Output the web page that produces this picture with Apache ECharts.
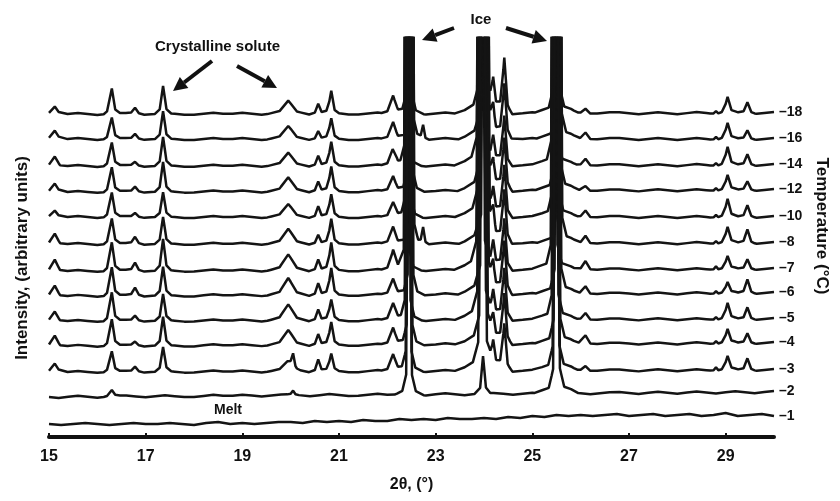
<!DOCTYPE html>
<html>
<head>
<meta charset="utf-8">
<script src="https://cdn.jsdelivr.net/npm/echarts@6/dist/echarts.min.js"></script>
<style>
  html, body { margin: 0; padding: 0; background: #fff; }
  #chart { width: 840px; height: 501px; }
</style>
</head>
<body>
<div id="chart"></div>
<script>
// temperatures, top trace first
var temps = ['\u201318', '\u201316', '\u201314', '\u201312', '\u201310', '\u20138', '\u20137', '\u20136', '\u20135', '\u20134', '\u20133', '\u20132', '\u20131'];
// stacking offset of each trace (baseline at 15 and at 30 deg)
var baseLeft = [323, 298, 271, 245, 220, 193, 166, 141, 116, 91, 65, 40, 13];
var baseRight = [324, 298, 272, 247, 220, 194, 168, 144, 118, 94, 67, 45, 21];

var xTicks = [15, 17, 19, 21, 23, 25, 27, 29];

// crystalline solute peaks: position, half width at base (deg)
var peakPos = [15.12, 16.30, 16.78, 17.36, 19.95, 20.05, 20.57, 20.84, 22.12, 22.74, 24.19, 24.42, 26.10, 28.80, 29.04, 29.45];
var peakWidth = [0.11, 0.07, 0.08, 0.07, 0.18, 0.05, 0.07, 0.07, 0.10, 0.05, 0.06, 0.07, 0.10, 0.05, 0.08, 0.08];
// heights of each peak, one row per trace
var peakHeight = [
  [8, 25, 6, 27, 12, 0, 10, 22, 18, 0, 27, 53, 5, 3, 16, 11],
  [9, 21, 5, 27, 12, 0, 8, 20, 17, 14, 22, 52, 7, 3, 16, 9],
  [10, 23, 4, 28, 12, 0, 10, 23, 18, 0, 22, 48, 7, 3, 18, 11],
  [9, 24, 5, 29, 13, 0, 10, 24, 15, 0, 22, 50, 5, 3, 15, 9],
  [7, 24, 4, 24, 12, 0, 11, 22, 15, 0, 22, 50, 7, 3, 18, 12],
  [11, 25, 7, 26, 14, 0, 9, 24, 17, 16, 22, 50, 8, 3, 16, 14],
  [12, 28, 8, 31, 15, 0, 11, 27, 20, 0, 22, 50, 9, 4, 13, 10],
  [11, 28, 8, 28, 16, 0, 12, 26, 16, 0, 22, 50, 8, 3, 11, 14],
  [10, 28, 5, 26, 15, 0, 11, 20, 17, 0, 22, 50, 7, 3, 16, 12],
  [11, 26, 4, 28, 14, 0, 11, 22, 17, 0, 22, 48, 9, 3, 14, 10],
  [9, 20, 5, 24, 10, 12, 12, 17, 17, 0, 22, 45, 5, 4, 14, 12],
  [0, 6, 0, 0, 0, 4, 0, 0, 0, 0, 0, 0, 0, 0, 0, 0],
  [0, 0, 0, 0, 0, 0, 0, 0, 0, 0, 0, 0, 0, 0, 0, 0]
];

// ice reflections: off-scale core, shoulder and broad foot
var icePos = [22.45, 23.98, 25.50];
var iceCoreWidth = [0.06, 0.09, 0.07];
var iceMidWidth = [0.14, 0.20, 0.16];
var iceMidHeight = [25, 30, 30];
var iceFootWidth = [0.30, 0.55, 0.45];
var iceFootHeight = [6, 14, 10];
var iceHeight = [
  [700, 700, 700], [700, 700, 700], [700, 700, 700], [700, 700, 700],
  [700, 700, 700], [700, 700, 700], [700, 700, 700], [700, 700, 700],
  [700, 700, 700], [700, 700, 700], [700, 700, 700],
  [700, 37, 700],
  [0, 0, 0]
];
// small shift of the ice reflections from trace to trace (deg)
var iceShift = [0, 0.04, -0.04, 0.02, -0.02, 0.05, -0.05, 0.03, -0.03, 0.01, -0.01, 0, 0];

// baseline ripple every 0.2 deg, 15..30
var ripple = [0, -1, 0, 1, 0, -1, 0, 1, 1, 0, -1, 0, 1, 0, -1, -1, 0, 1, 0, 0,
  1, 0, -1, 0, 1, 1, 0, -1, 0, 1, 0, -1, -1, 0, 1, 0, 0, 1, 0, -1,
  0, 1, 0, -1, 0, 1, 1, 0, -1, 0, 1, 0, -1, 0, 1, 0, -1, 0, 1, 1,
  0, -1, 0, 1, 0, -1, 0, 1, 0, -1, 0, 1, 0, -1, 0, 1];

// melt trace, read every 0.25 deg from 15 to 30
var melt = [13, 12, 13, 14, 13, 12, 13, 14, 13, 13, 14, 13, 12, 14, 15, 13, 14, 13, 14, 15,
  15, 14, 16, 15, 16, 15, 17, 16, 16, 18, 17, 18, 17, 19, 18, 18, 19, 18, 20, 19,
  21, 20, 22, 21, 22, 21, 22, 23, 21, 22, 23, 21, 22, 23, 21, 22, 24, 21, 22, 23, 21];

function rippleAt(x) {
  var t = (x - 15) / 0.2, k = Math.floor(t);
  if (k >= ripple.length - 1) return ripple[ripple.length - 1];
  return ripple[k] + (ripple[k + 1] - ripple[k]) * (t - k);
}

function buildTrace(i) {
  if (i === temps.length - 1) {
    return melt.map(function (v, k) { return [15 + k * 0.25, v]; });
  }
  var peaks = [];
  peakPos.forEach(function (c, j) {
    var h = peakHeight[i][j];
    if (h <= 0) return;
    peaks.push({ c: c, w: peakWidth[j], h: h * 0.75 });
    peaks.push({ c: c, w: peakWidth[j] * 2.4, h: h * 0.25 });
  });
  icePos.forEach(function (c, j) {
    var h = iceHeight[i][j];
    if (h <= 0) return;
    var cc = c + iceShift[i];
    if (h > 100) {
      peaks.push({ c: cc, w: iceCoreWidth[j], h: h });
      peaks.push({ c: cc, w: iceMidWidth[j], h: iceMidHeight[j] });
      peaks.push({ c: cc, w: iceFootWidth[j], h: iceFootHeight[j] });
    } else {
      peaks.push({ c: cc, w: 0.06, h: h * 0.75 });
      peaks.push({ c: cc, w: 0.15, h: h * 0.25 });
    }
  });
  var xs = [];
  ripple.forEach(function (r, k) { xs.push(15 + k * 0.2); });
  peaks.forEach(function (p) { xs.push(p.c - p.w, p.c, p.c + p.w); });
  xs = xs.filter(function (x) { return x >= 15 && x <= 30; }).sort(function (a, b) { return a - b; });
  return xs.map(function (x) {
    var y = baseLeft[i] + (baseRight[i] - baseLeft[i]) * (x - 15) / 15 + rippleAt(x);
    peaks.forEach(function (p) {
      var d = Math.abs(x - p.c);
      if (d < p.w) y += p.h * (1 - d / p.w);
    });
    return [x, y];
  });
}

var font = '"Liberation Sans", Arial, sans-serif';
var series = temps.map(function (t, i) {
  return {
    name: t,
    type: 'line',
    data: buildTrace(i),
    showSymbol: false,
    silent: true,
    clip: true,
    lineStyle: { color: '#141414', width: 2.5 },
    endLabel: {
      show: true,
      formatter: t,
      color: '#111',
      fontFamily: font,
      fontWeight: 'bold',
      fontSize: 14,
      distance: 5
    }
  };
});

function arrow(x1, y1, x2, y2) {
  var a = Math.atan2(y2 - y1, x2 - x1);
  var L = 14, W = 7;
  var bx = x2 - L * Math.cos(a), by = y2 - L * Math.sin(a);
  return [{
    type: 'line',
    shape: { x1: x1, y1: y1, x2: bx, y2: by },
    style: { stroke: '#111', lineWidth: 4 }
  }, {
    type: 'polygon',
    shape: { points: [[x2, y2], [bx + W * Math.sin(a), by - W * Math.cos(a)], [bx - W * Math.sin(a), by + W * Math.cos(a)]] },
    style: { fill: '#111' }
  }];
}

var graphics = [].concat(
  arrow(212, 61, 173, 91),
  arrow(237, 66, 277, 88),
  arrow(454, 28, 422, 40),
  arrow(506, 28, 547, 41),
  [
    { type: 'text', left: 155, top: 39, style: { text: 'Crystalline solute', font: 'bold 15px ' + font, fill: '#111' } },
    { type: 'text', x: 481, y: 20, style: { text: 'Ice', font: 'bold 15px ' + font, fill: '#111', align: 'center', verticalAlign: 'middle' } },
    { type: 'text', x: 228, y: 410, style: { text: 'Melt', font: 'bold 14px ' + font, fill: '#111', align: 'center', verticalAlign: 'middle' } },
    { type: 'text', x: 22, y: 258, rotation: Math.PI / 2, style: { text: 'Intensity, (arbitrary units)', font: 'bold 17px ' + font, fill: '#111', align: 'center', verticalAlign: 'middle' } },
    { type: 'text', x: 822, y: 226, rotation: -Math.PI / 2, style: { text: 'Temperature (\u00b0C)', font: 'bold 17px ' + font, fill: '#111', align: 'center', verticalAlign: 'middle' } }
  ]
);

var myChart = echarts.init(document.getElementById('chart'));
var option = {
  animation: false,
  backgroundColor: '#fff',
  grid: { left: 49, right: 66, top: 38, bottom: 64 },
  xAxis: {
    type: 'value',
    min: 15,
    max: 30,
    name: '2\u03b8, (\u00b0)',
    nameLocation: 'middle',
    nameGap: 40,
    nameTextStyle: { fontFamily: font, fontWeight: 'bold', fontSize: 16, color: '#111' },
    axisLine: { lineStyle: { color: '#111', width: 4 } },
    axisTick: { inside: true, length: 4, lineStyle: { color: '#111', width: 2 }, customValues: xTicks },
    axisLabel: { fontFamily: font, fontWeight: 'bold', fontSize: 16, color: '#111', margin: 12, customValues: xTicks },
    splitLine: { show: false }
  },
  yAxis: { type: 'value', min: 0, max: 399, show: false },
  series: series,
  graphic: graphics
};
myChart.setOption(option);
window.addEventListener('resize', function () {
  myChart.resize();
});
</script>
</body>
</html>
